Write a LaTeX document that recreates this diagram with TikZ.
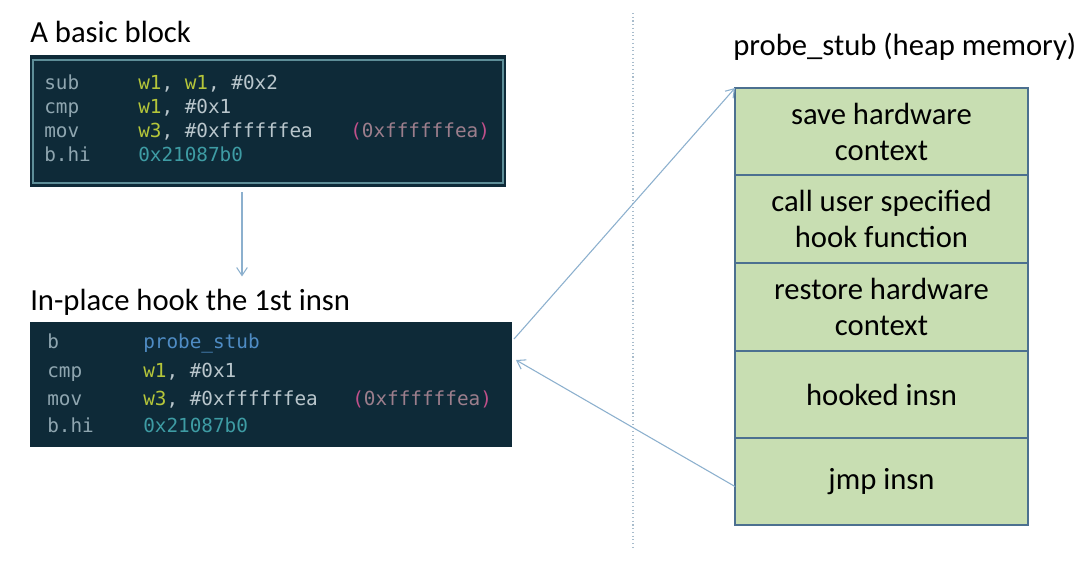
\documentclass[tikz,border=0pt]{standalone}
\usepackage{fontspec}
\setmainfont{Carlito}
\newfontfamily\codefont{DejaVu Sans Mono}
\usetikzlibrary{arrows.meta,calc}
\definecolor{codebg}{HTML}{0E2A38}
\definecolor{codeframe}{HTML}{5E8E98}
\definecolor{mnem}{HTML}{8FA6B0}
\definecolor{reg}{HTML}{B5C63A}
\definecolor{imm}{HTML}{B9C6CC}
\definecolor{addr}{HTML}{3E9CA4}
\definecolor{paren}{HTML}{9C7E8C}
\definecolor{parenb}{HTML}{C0508A}
\definecolor{sym}{HTML}{4F8CC4}
\definecolor{stubfill}{HTML}{C8DEB2}
\definecolor{stubline}{HTML}{4C7090}
\definecolor{arrcol}{HTML}{8CB0CE}
\definecolor{divcol}{HTML}{A8BCCC}
\begin{document}
\begin{tikzpicture}[x=0.75pt,y=-0.75pt,
  label/.style={inner sep=0pt,font=\fontsize{23pt}{27.5pt}\selectfont,text=black},
  codebox/.style={fill=codebg,draw=none,inner sep=0pt,outer sep=0pt,anchor=north west},
  code/.style={inner sep=0pt,anchor=base west,font=\codefont\fontsize{14.5pt}{17pt}\selectfont},
  stubbox/.style={draw=stubline,line width=1.1pt,fill=stubfill,inner sep=0pt,outer sep=0pt,anchor=north west,
    minimum width=219.75pt,align=center,font=\fontsize{23pt}{27pt}\selectfont,text=black},
  arr/.style={draw=arrcol,line width=0.8pt,-{Straight Barb[length=6pt,width=8pt]}}]
\useasboundingbox (0,0) rectangle (1080,561);
\fill[white] (0,0) rectangle (1080,561);

% titles
\node[label,anchor=base west] (t1) at (30,42) {A basic block};
\node[label,anchor=base west] (t2) at (30,310) {In-place hook the 1st insn};
\node[label,anchor=base west] (t3) at (733,55) {probe\_stub (heap memory)};

% top code box
\node[codebox,minimum width=357pt,minimum height=99pt] (bb) at (30,55) {};
\draw[codeframe,line width=1.2pt] ($(bb.north west)+(3,5)$) rectangle ($(bb.south east)+(-3,-4)$);
\node[code,text=mnem] (b1m) at (44,89) {sub};
\node[code] (b1o) at (138,89) {\textcolor{reg}{w1}\textcolor{imm}{, }\textcolor{reg}{w1}\textcolor{imm}{, \#0x2}};
\node[code,text=mnem] (b2m) at (44,113) {cmp};
\node[code] (b2o) at (138,113) {\textcolor{reg}{w1}\textcolor{imm}{, \#0x1}};
\node[code,text=mnem] (b3m) at (44,137) {mov};
\node[code] (b3o) at (138,137) {\textcolor{reg}{w3}\textcolor{imm}{, \#0xffffffea}};
\node[code] (b3c) at (350,137) {\textcolor{parenb}{(}\textcolor{paren}{0xffffffea}\textcolor{parenb}{)}};
\node[code,text=mnem] (b4m) at (44,161) {b.hi};
\node[code,text=addr] (b4o) at (138,161) {0x21087b0};

% bottom code box
\node[codebox,minimum width=361.5pt,minimum height=93.75pt] (ip) at (30,322) {};
\node[code,text=mnem] (h1m) at (47,348) {b};
\node[code,text=sym] (h1o) at (143,348) {probe\_stub};
\node[code,text=mnem] (h2m) at (47,377) {cmp};
\node[code] (h2o) at (143,377) {\textcolor{reg}{w1}\textcolor{imm}{, \#0x1}};
\node[code,text=mnem] (h3m) at (47,405) {mov};
\node[code] (h3o) at (143,405) {\textcolor{reg}{w3}\textcolor{imm}{, \#0xffffffea}};
\node[code] (h3c) at (352,405) {\textcolor{parenb}{(}\textcolor{paren}{0xffffffea}\textcolor{parenb}{)}};
\node[code,text=mnem] (h4m) at (47,432) {b.hi};
\node[code,text=addr] (h4o) at (143,432) {0x21087b0};

% divider
\coordinate (dtop) at (633,13);
\coordinate (dbot) at (633,547);
\draw[divcol,line width=0.8pt,dotted] (dtop) -- (dbot);

% stub boxes
\node[stubbox,minimum height=65.25pt] (s1) at (735,88) {save hardware\\context};
\node[stubbox,minimum height=66pt] (s2) at (s1.south west) {call user specified\\hook function};
\node[stubbox,minimum height=66pt] (s3) at (s2.south west) {restore hardware\\context};
\node[stubbox,minimum height=65.25pt] (s4) at (s3.south west) {hooked insn};
\node[stubbox,minimum height=65.25pt] (s5) at (s4.south west) {jmp insn};

% arrows
\draw[arr] ($(bb.south west)+(212,5)$) -- ($(t2.north west)+(212,-12)$);
\draw[arr] ($(ip.north east)+(2,17)$) -- (s1.north west);
\draw[arr] ($(s5.west)+(0,5)$) -- ($(ip.north east)+(4,38)$);
\end{tikzpicture}
\end{document}
